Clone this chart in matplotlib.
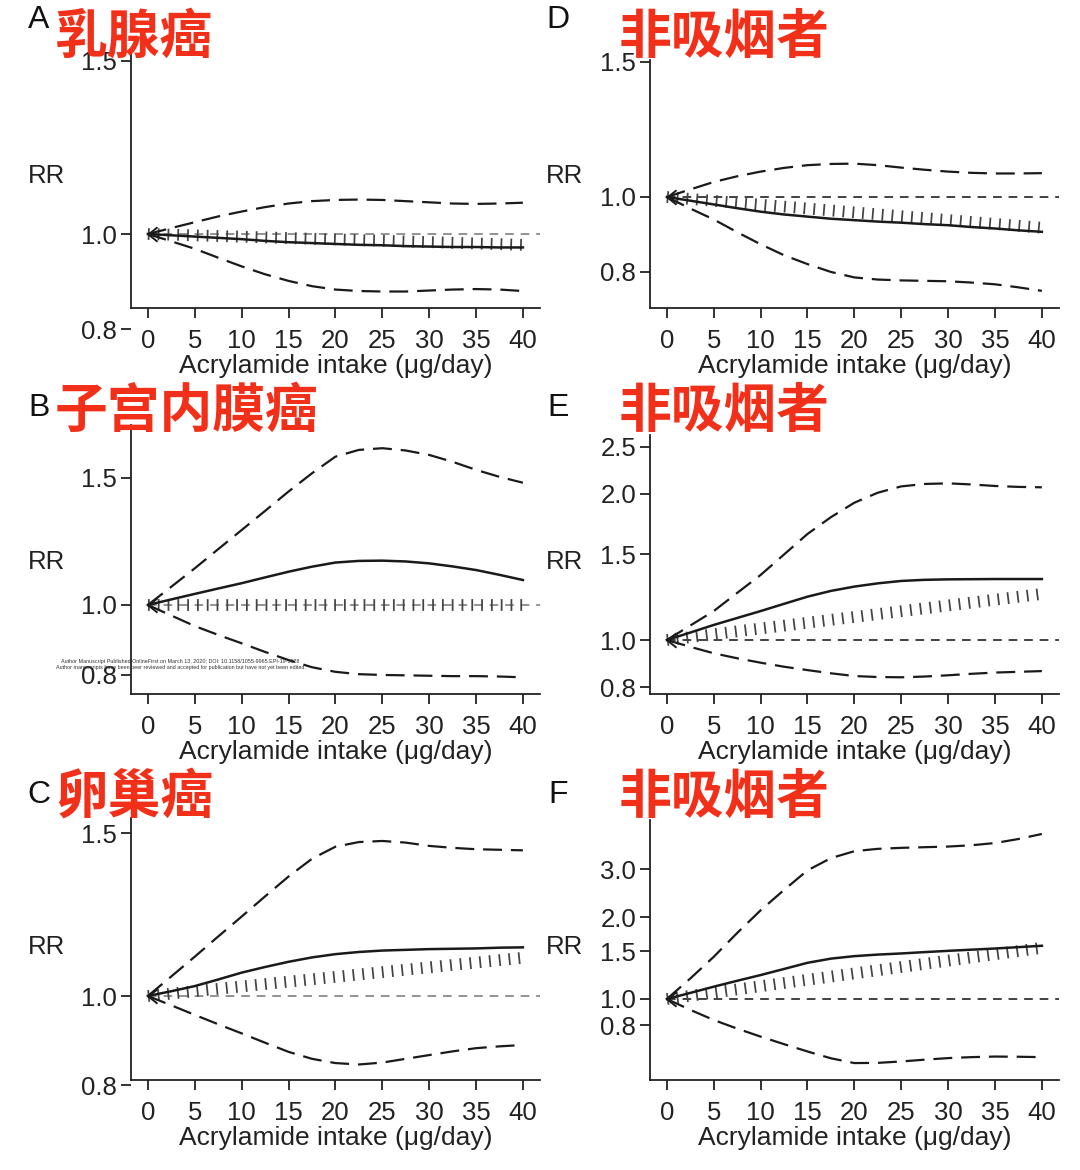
import numpy as np
import matplotlib
matplotlib.use("Agg")
import matplotlib.pyplot as plt
from matplotlib.path import Path
from matplotlib.ticker import NullLocator, FixedLocator, FixedFormatter

plt.rcParams["font.family"] = ["Liberation Sans", "DejaVu Sans"]

W, H = 1080, 1170

# ---- data ----
intake = [0, 2.5, 5, 7.5, 10, 12.5, 15, 17.5, 20, 22.5, 25, 27.5, 30, 32.5, 35, 37.5, 40]

a_rr = [1.0, .997, .994, .991, .988, .984, .981, .979, .977, .975, .974, .972, .971, .970, .970, .969, .969]
a_hi = [1.0, 1.014, 1.028, 1.042, 1.054, 1.065, 1.074, 1.080, 1.083, 1.084, 1.083, 1.080, 1.077, 1.074, 1.073, 1.074, 1.076]
a_lo = [1.0, .983, .966, .946, .927, .910, .896, .885, .878, .875, .874, .874, .876, .878, .879, .878, .875]

b_rr = [1.0, 1.018, 1.036, 1.054, 1.072, 1.092, 1.112, 1.130, 1.145, 1.151, 1.152, 1.149, 1.142, 1.131, 1.118, 1.101, 1.083]
b_hi = [1.0, 1.060, 1.124, 1.195, 1.270, 1.350, 1.436, 1.522, 1.605, 1.640, 1.649, 1.637, 1.614, 1.579, 1.539, 1.505, 1.477]
b_lo = [1.0, .967, .935, .909, .885, .861, .839, .820, .808, .802, .800, .799, .798, .797, .797, .796, .794]

c_rr = [1.0, 1.012, 1.025, 1.042, 1.060, 1.075, 1.089, 1.101, 1.110, 1.116, 1.120, 1.122, 1.124, 1.125, 1.126, 1.128, 1.129]
c_hi = [1.0, 1.050, 1.103, 1.160, 1.219, 1.282, 1.347, 1.408, 1.451, 1.468, 1.472, 1.466, 1.454, 1.447, 1.442, 1.440, 1.438]
c_lo = [1.0, .977, .954, .932, .911, .890, .870, .855, .846, .843, .847, .855, .863, .871, .878, .882, .885]

d_rr = [1.0, .989, .978, .967, .957, .949, .943, .937, .933, .929, .926, .922, .919, .914, .910, .905, .901]
d_hi = [1.0, 1.023, 1.046, 1.064, 1.079, 1.091, 1.100, 1.104, 1.105, 1.100, 1.092, 1.085, 1.079, 1.075, 1.073, 1.073, 1.074]
d_lo = [1.0, .966, .935, .900, .868, .840, .818, .799, .786, .781, .779, .778, .777, .774, .770, .763, .755]

e_rr = [1.0, 1.036, 1.074, 1.110, 1.147, 1.187, 1.228, 1.262, 1.288, 1.308, 1.323, 1.330, 1.333, 1.334, 1.335, 1.335, 1.335]
e_hi = [1.0, 1.071, 1.147, 1.250, 1.361, 1.500, 1.653, 1.790, 1.917, 2.010, 2.071, 2.095, 2.101, 2.090, 2.075, 2.066, 2.062]
e_lo = [1.0, .968, .939, .917, .898, .881, .867, .854, .843, .839, .838, .841, .846, .852, .857, .860, .863]

f_rr = [1.0, 1.053, 1.110, 1.167, 1.225, 1.290, 1.359, 1.408, 1.438, 1.457, 1.471, 1.488, 1.504, 1.519, 1.534, 1.552, 1.570]
f_hi = [1.0, 1.190, 1.430, 1.750, 2.121, 2.520, 2.975, 3.300, 3.500, 3.570, 3.600, 3.620, 3.640, 3.680, 3.750, 3.880, 4.050]
f_lo = [1.0, .912, .837, .778, .727, .682, .641, .605, .581, .582, .589, .598, .606, .611, .614, .613, .611]

# linear trend: RR at 0 and at 40
trend_start = [1.0, 1.0, 1.0, 1.0, 1.0, 1.0]
trend_end = [0.975, 1.0, 1.100, 0.912, 1.244, 1.543]

letters = ["A", "B", "C", "D", "E", "F"]
titles = ["乳腺癌", "子宫内膜癌", "卵巢癌", "非吸烟者", "非吸烟者", "非吸烟者"]
yticks = [
    [0.8, 1.0, 1.5],
    [0.8, 1.0, 1.5],
    [0.8, 1.0, 1.5],
    [0.8, 1.0, 1.5],
    [0.8, 1.0, 1.5, 2.0, 2.5],
    [0.8, 1.0, 1.5, 2.0, 3.0],
]
xticks = [0, 5, 10, 15, 20, 25, 30, 35, 40]
curves = [(a_rr, a_hi, a_lo), (b_rr, b_hi, b_lo), (c_rr, c_hi, c_lo),
          (d_rr, d_hi, d_lo), (e_rr, e_hi, e_lo), (f_rr, f_hi, f_lo)]

# ---- layout in pixels: spine x, y of RR=1, px per ln unit, spine top, spine bottom ----
layout = [
    dict(left=131, y1=234, k=427, top=50, bot=308),
    dict(left=131, y1=605, k=313.5, top=425, bot=694),
    dict(left=131, y1=996, k=401, top=818, bot=1080),
    dict(left=650, y1=197, k=334, top=60, bot=308),
    dict(left=650, y1=640, k=211, top=435, bot=694),
    dict(left=650, y1=999, k=118, top=820, bot=1080),
]
ref_colors = ["#8a8a8a", "#8a8a8a", "#8a8a8a", "#333333", "#333333", "#333333"]
XMIN, XMAX = -1.8, 41.8
AXW = (XMAX - XMIN) * 9.375
RED = "#f2301a"
FS = 18.5

fig = plt.figure(figsize=(W / 100, H / 100), dpi=100)


def fx(x):
    return x / W


def fy(y):
    return 1 - y / H


arrow = Path([(1.0, 0.8), (0, 0), (1.0, -0.8)], [Path.MOVETO, Path.LINETO, Path.LINETO])

for i, lay in enumerate(layout):
    y1, k = lay["y1"], lay["k"]
    low_px = y1 - k * np.log(min(yticks[i]))
    rect_bot = max(lay["bot"], low_px + 8)
    ax = fig.add_axes([fx(lay["left"]), fy(rect_bot), AXW / W, (rect_bot - lay["top"]) / H])
    ax.set_yscale("log")
    ymin = np.exp((y1 - rect_bot) / k)
    ymax = np.exp((y1 - lay["top"]) / k)
    ybase = np.exp((y1 - lay["bot"]) / k)
    ax.set_ylim(ymin, ymax)
    ax.set_xlim(XMIN, XMAX)

    for s in ["top", "right"]:
        ax.spines[s].set_visible(False)
    ax.spines["bottom"].set_position(("data", ybase))
    ax.spines["left"].set_bounds(ybase, ymax)
    for s in ["bottom", "left"]:
        ax.spines[s].set_linewidth(1.3)
        ax.spines[s].set_color("#222222")

    ax.yaxis.set_major_locator(FixedLocator(yticks[i]))
    ax.yaxis.set_major_formatter(FixedFormatter([f"{v:.1f}" for v in yticks[i]]))
    ax.yaxis.set_minor_locator(NullLocator())
    ax.set_xticks(xticks)
    ax.tick_params(direction="out", length=7.5, width=1.3, labelsize=FS, color="#222222",
                   labelcolor="#222222")
    ax.tick_params(axis="y", pad=2.5)
    ax.tick_params(axis="x", pad=7.5)

    rr, hi, lo = curves[i]
    ax.hlines(1.0, 0, XMAX, colors=ref_colors[i], linewidth=1.3, linestyles=(0, (4.8, 3.8)))
    ax.plot([0, 40], [trend_start[i], trend_end[i]], color="#444444", linewidth=8.5,
            linestyle=(0, (0.15, 0.68)), solid_capstyle="butt", dash_capstyle="butt")
    ax.plot(intake, hi, color="#1a1a1a", linewidth=1.6, linestyle=(0, (8.5, 4.0)))
    ax.plot(intake, lo, color="#1a1a1a", linewidth=1.6, linestyle=(0, (8.5, 4.0)))
    ax.plot(intake, rr, color="#1a1a1a", linewidth=1.8)
    ax.plot([0], [1.0], marker=arrow, markersize=13, markerfacecolor="none",
            markeredgecolor="#1a1a1a", markeredgewidth=1.4, linestyle="none")

    # texts
    col_x = lay["left"]
    xmid = col_x + (20 - XMIN) * 9.375
    row = i % 3
    xl_y = [366, 752, 1138][row]
    rr_y = [176, 562, 947][row]
    let_y = [20, 408, 795][row]
    tit_y = [37, 411, 797][row]
    fig.text(fx(xmid), fy(xl_y), "Acrylamide intake (μg/day)", fontsize=FS + 0.5,
             ha="center", va="center", color="#222222")
    fig.text(fx(col_x - 85), fy(rr_y), "RR", fontsize=FS, ha="center", va="center",
             color="#222222")
    fig.text(fx(col_x - 92), fy(let_y), letters[i], fontsize=23, ha="center", va="center",
             color="#111111")
    tx = 55 if i < 3 else 619
    fig.text(fx(tx), fy(tit_y), titles[i], fontsize=38, fontweight="bold", color=RED,
             ha="left", va="center", family=["Noto Sans CJK SC", "DejaVu Sans"])

fig.text(fx(180), fy(661),
         "Author Manuscript Published OnlineFirst on March 13, 2020; DOI: 10.1158/1055-9965.EPI-19-1628",
         fontsize=3.9, ha="center", va="center", color="#333333")
fig.text(fx(181), fy(667),
         "Author manuscripts have been peer reviewed and accepted for publication but have not yet been edited.",
         fontsize=3.9, ha="center", va="center", color="#333333")

fig.savefig("out.png", dpi=100)
